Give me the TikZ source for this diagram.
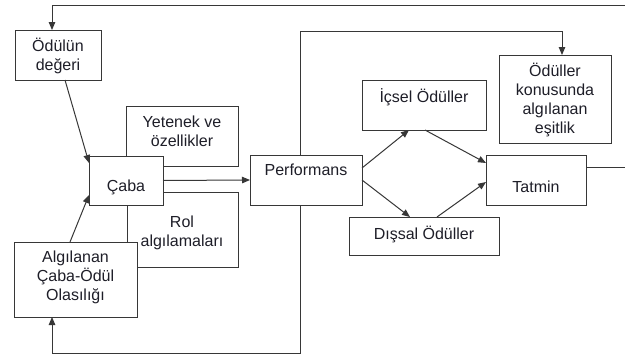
\documentclass[tikz,border=0pt]{standalone}
\usepackage{fontspec}
\setmainfont{Liberation Sans}
\usetikzlibrary{arrows.meta,calc}
\definecolor{linec}{RGB}{55,55,55}
\definecolor{textc}{RGB}{30,30,40}
\begin{document}
\begin{tikzpicture}[x=1pt,y=-1pt,
  box/.style={draw=linec,line width=1pt,fill=white,rectangle,inner sep=0pt,outer sep=0pt},
  lbl/.style={text=textc,align=center,inner sep=0pt,font=\fontsize{16}{19}\selectfont},
  conn/.style={draw=linec,line width=1pt},
  arr/.style={conn,-{Triangle[length=8pt,width=6.5pt]}}]
\useasboundingbox (0,0) rectangle (625,356);
% boxes (back to front)
\node[box,minimum width=112,minimum height=60] (yet) at (182,136) {};
\node[box,minimum width=111,minimum height=75] (rol) at (182.5,229.5) {};
\node[box,minimum width=74,minimum height=49] (caba) at (126,180.5) {};
\node[box,minimum width=123,minimum height=75] (alg) at (75.5,279.5) {};
\node[box,minimum width=86,minimum height=50] (oded) at (58,55) {};
\node[box,minimum width=112,minimum height=50] (perf) at (306,180) {};
\node[box,minimum width=124,minimum height=50] (icsel) at (424,105) {};
\node[box,minimum width=112,minimum height=88] (esit) at (555,99) {};
\node[box,minimum width=100,minimum height=50] (tatmin) at (536,180) {};
\node[box,minimum width=150,minimum height=38] (dissal) at (424,236) {};
% texts
\node[lbl] (toded) at (58,56) {Ödülün\\değeri};
\node[lbl] (tyet) at (182,131) {Yetenek ve\\özellikler};
\node[lbl] (tcaba) at (126,187) {Çaba};
\node[lbl] (trol) at (182,233) {Rol\\algılamaları};
\node[lbl] (talg) at (75.5,277) {Algılanan\\Çaba-Ödül\\Olasılığı};
\node[lbl] (tperf) at (306,170) {Performans};
\node[lbl] (ticsel) at (424,97) {İçsel Ödüller};
\node[lbl] (tesit) at (555,100) {Ödüller\\konusunda\\algılanan\\eşitlik};
\node[lbl] (ttatmin) at (536,187) {Tatmin};
\node[lbl] (tdissal) at (424,234) {Dışsal Ödüller};
% coordinates
\coordinate (tr) at (625,5);
\coordinate (tl) at (52,5);
\coordinate (tatR) at (625,167);
% connectors
\draw[arr] (tr) -- (tl) -- (tl |- oded.north);
\draw[conn] (tatmin.east |- tatR) -- (tatR);
\draw[arr] ($(oded.south)+(7,0)$) -- ($(caba.west)+(0,-17.5)$);
\draw[arr] ($(alg.north)+(-5.5,0)$) -- ($(caba.west)+(0,14.5)$);
\draw[arr] (caba.east) -- (perf.west);
\draw[arr] ($(perf.east)+(0,-12)$) -- ($(icsel.south)+(-15,0)$);
\draw[arr] ($(icsel.south)+(1,0)$) -- ($(tatmin.west)+(0,-17)$);
\draw[arr] (perf.east) -- ($(dissal.north)+(-14,0)$);
\draw[arr] ($(dissal.north)+(13,0)$) -- ($(tatmin.west)+(0,2)$);
\draw[arr] ($(perf.north)+(-6,0)$) -- ++(0,-124) -| ($(esit.north)+(7,0)$);
\draw[arr] ($(perf.south)+(-6,0)$) -- ++(0,148) -| ($(alg.south)+(-23.5,0)$);
\end{tikzpicture}
\end{document}
